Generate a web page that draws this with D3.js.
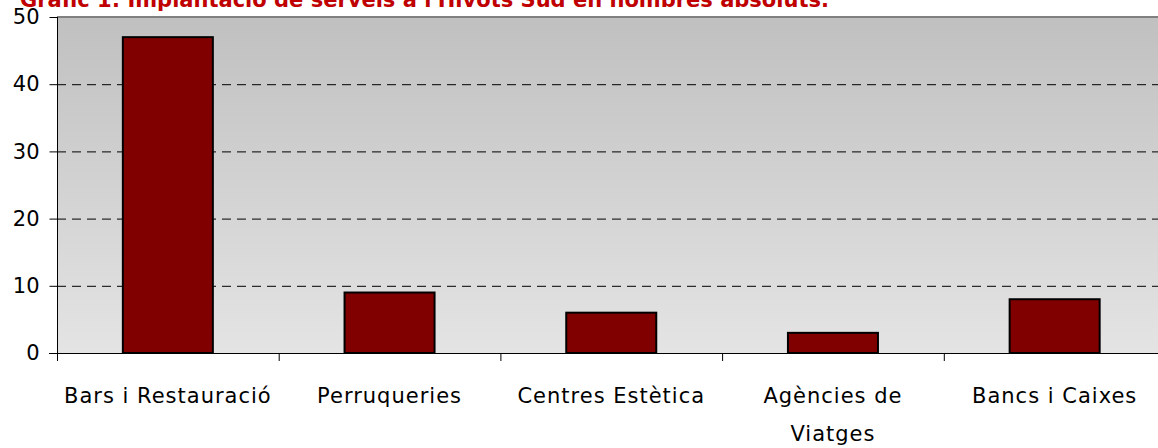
<!DOCTYPE html>
<html>
<head>
<meta charset="utf-8">
<script src="https://cdn.jsdelivr.net/npm/d3@7"></script>
<style>
  body { margin: 0; background: #ffffff; }
  svg text { font-family: "DejaVu Sans", sans-serif; }
</style>
</head>
<body>
<svg id="chart" width="1158" height="448"></svg>
<script>
  // data
  var categories = [["Bars i Restauració"], ["Perruqueries"], ["Centres Estètica"], ["Agències de", "Viatges"], ["Bancs i Caixes"]];
  var values     = [47, 9, 6, 3, 8];
  var yTicks     = [0, 10, 20, 30, 40, 50];
  var title      = "Gràfic 1: Implantació de serveis a l'Hivots Sud en nombres absoluts.";

  var chart = d3.select("#chart");
  var margin = {top: 17, left: 57};
  var plotBottom = 353;
  var step = 221.7;
  var plotRight = margin.left + step * categories.length;

  var x = d3.scaleBand().domain(d3.range(categories.length))
            .range([margin.left, plotRight]).paddingInner(0.594).paddingOuter(0.297);
  var y = d3.scaleLinear().domain([0, 50]).range([plotBottom, margin.top]);

  // background gradient
  var grad = chart.append("defs").append("linearGradient").attr("id", "bg")
       .attr("x1", 0).attr("y1", 0).attr("x2", 0).attr("y2", 1);
  grad.append("stop").attr("offset", "0%").attr("stop-color", "#c0c0c0");
  grad.append("stop").attr("offset", "100%").attr("stop-color", "#e4e4e4");

  chart.append("rect").attr("x", margin.left).attr("y", y(50))
       .attr("width", plotRight - margin.left).attr("height", y(0) - y(50))
       .style("fill", "url(#bg)");
  chart.append("line").attr("x1", margin.left).attr("x2", plotRight)
       .attr("y1", y(50)).attr("y2", y(50))
       .style("stroke", "#808080").style("stroke-width", 2);

  // grid lines
  chart.selectAll(".grid").data(yTicks.filter(function(d) { return d > 0 && d < 50; }))
       .enter().append("line")
       .attr("x1", margin.left).attr("x2", plotRight)
       .attr("y1", function(d) { return y(d) + 0.5; }).attr("y2", function(d) { return y(d) + 0.5; })
       .style("stroke", "#000").style("stroke-width", 1).style("stroke-dasharray", "9,6");

  // bars
  chart.selectAll(".bar").data(values).enter().append("rect")
       .attr("x", function(d, i) { return x(i); })
       .attr("y", function(d) { return y(d); })
       .attr("width", x.bandwidth())
       .attr("height", function(d) { return y(0) - y(d); })
       .style("fill", "#800000").style("stroke", "#000").style("stroke-width", 2);

  // y axis
  var yAxis = chart.append("g").attr("transform", "translate(" + (margin.left + 0.5) + ",0)")
       .call(d3.axisLeft(y).tickValues(yTicks).tickSize(8).tickPadding(10).tickFormat(d3.format("d")));
  yAxis.select(".domain").attr("d", "M0," + y(50) + "V" + y(0)).style("stroke", "#000");
  yAxis.selectAll(".tick line").style("stroke", "#000");
  yAxis.selectAll(".tick text").style("font-size", "21px").style("fill", "#000")
       .style("font-family", "'DejaVu Sans', sans-serif");

  // x axis
  chart.append("line").attr("x1", margin.left - 8).attr("x2", plotRight)
       .attr("y1", plotBottom + 0.5).attr("y2", plotBottom + 0.5)
       .style("stroke", "#000").style("stroke-width", 1);
  chart.selectAll(".xtick").data(d3.range(categories.length + 1)).enter().append("line")
       .attr("x1", function(d) { return margin.left + d * step + 0.5; })
       .attr("x2", function(d) { return margin.left + d * step + 0.5; })
       .attr("y1", plotBottom).attr("y2", plotBottom + 8)
       .style("stroke", "#000");

  var labels = chart.selectAll(".xlabel").data(categories).enter().append("text")
       .attr("text-anchor", "middle")
       .attr("x", function(d, i) { return x(i) + x.bandwidth() / 2; })
       .attr("y", 403)
       .style("font-size", "21px").style("letter-spacing", "1px").style("fill", "#000");
  labels.selectAll("tspan").data(function(d) { return d; }).enter().append("tspan")
       .attr("x", function() { return d3.select(this.parentNode).attr("x"); })
       .attr("dy", function(d, i) { return i === 0 ? 0 : 38; })
       .text(function(d) { return d; });

  // title (partly cut off at the top)
  chart.append("text").attr("x", 20).attr("y", 7)
       .text(title)
       .style("font-size", "21px").style("font-weight", "bold").style("fill", "#c00000");
</script>
</body>
</html>
